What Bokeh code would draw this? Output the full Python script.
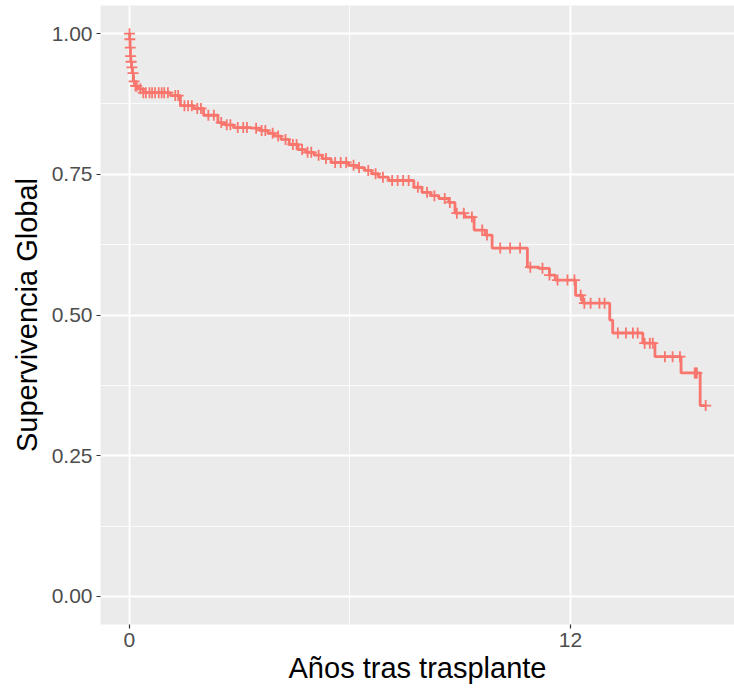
import numpy as np
from bokeh.plotting import figure
from bokeh.models import FixedTicker, Range1d, CustomJSTickFormatter
from bokeh.embed import file_html
from bokeh.resources import INLINE

# Kaplan-Meier steps (years, survival)
event_times = [0, 0.01, 0.02, 0.03, 0.04, 0.06, 0.08, 0.11, 0.15, 0.25, 0.38, 1.12, 1.39,
               1.75, 2.02, 2.41, 2.6, 2.84, 3.31, 3.55, 3.77, 3.95, 4.13, 4.35, 4.59, 4.8,
               5.03, 5.25, 5.49, 5.96, 6.2, 6.40, 6.6, 6.78, 7.05, 7.74, 7.96, 8.2, 8.42,
               8.69, 8.86, 9.13, 9.38, 9.68, 9.87, 10.83, 11.15, 11.43, 11.59, 12.14,
               12.33, 13.07, 13.15, 13.97, 14.30, 15.01, 15.53]
survival = [1.0, 0.99, 0.975, 0.96, 0.95, 0.94, 0.93, 0.915, 0.907, 0.902, 0.895, 0.890,
            0.872, 0.867, 0.855, 0.842, 0.838, 0.833, 0.832, 0.828, 0.823, 0.818, 0.812,
            0.803, 0.794, 0.789, 0.784, 0.778, 0.771, 0.766, 0.762, 0.757, 0.751, 0.745,
            0.739, 0.727, 0.718, 0.712, 0.707, 0.700, 0.681, 0.674, 0.651, 0.642, 0.619,
            0.585, 0.583, 0.571, 0.562, 0.535, 0.521, 0.491, 0.468, 0.450, 0.426, 0.397,
            0.339]
# censoring times (+ marks)
censor_times = [0.005, 0.015, 0.025, 0.035, 0.05, 0.07, 0.1, 0.13, 0.17, 0.2, 0.3, 0.38,
                0.45, 0.55, 0.62, 0.7, 0.8, 0.88, 0.95, 1.05, 1.25, 1.33, 1.5, 1.6, 1.7,
                1.85, 1.95, 2.15, 2.3, 2.5, 2.65, 2.75, 2.95, 3.1, 3.2, 3.45, 3.6, 3.7,
                3.9, 4.05, 4.25, 4.45, 4.55, 4.7, 4.85, 4.95, 5.15, 5.35, 5.6, 5.75, 5.9,
                6.1, 6.25, 6.5, 6.7, 6.9, 7.15, 7.3, 7.45, 7.6, 7.85, 8.1, 8.3, 8.58,
                8.72, 8.91, 9.10, 9.32, 9.60, 9.73, 10.09, 10.36, 10.63, 10.91, 11.24,
                11.43, 11.65, 11.92, 12.11, 12.28, 12.38, 12.55, 12.79, 12.93, 13.29,
                13.51, 13.70, 13.83, 14.02, 14.16, 14.24, 14.57, 14.78, 14.98, 15.38,
                15.41, 15.44, 15.68]
x_ticks = [0, 12]
x_minor = [6, 18]
y_ticks = [0.0, 0.25, 0.5, 0.75, 1.0]
y_minor = [0.125, 0.375, 0.625, 0.875]
x_title = "Años tras trasplante"
y_title = "Supervivencia Global"

COLOR = "#F8766D"

et = np.array(event_times)
sv = np.array(survival)
ct = np.array(censor_times)
cs = sv[np.searchsorted(et, ct, side="right") - 1]
tmax = max(et.max(), ct.max())
line_x = np.append(et, tmax)
line_y = np.append(sv, sv[-1])

p = figure(width=734, height=688, output_backend="svg", toolbar_location=None,
           min_border_left=100, min_border_right=0, min_border_top=5, min_border_bottom=64,
           x_range=Range1d(-0.05 * tmax, 1.05 * tmax), y_range=Range1d(-0.05, 1.05))
p.background_fill_color = "#EBEBEB"
p.border_fill_color = "white"
p.outline_line_color = None

p.step(line_x, line_y, mode="after", line_color=COLOR, line_width=2.8)
p.scatter(ct, cs, marker="cross", size=11, line_color=COLOR, line_width=1.8)

p.xaxis.ticker = FixedTicker(ticks=x_ticks, minor_ticks=x_minor)
p.yaxis.ticker = FixedTicker(ticks=y_ticks, minor_ticks=y_minor)
p.yaxis.formatter = CustomJSTickFormatter(code="return tick.toFixed(2);")

for g in (p.xgrid, p.ygrid):
    g.grid_line_color = "white"
    g.grid_line_width = 1.8
    g.minor_grid_line_color = "white"
    g.minor_grid_line_width = 0.8

for ax in (p.xaxis, p.yaxis):
    ax.axis_line_color = None
    ax.major_tick_line_color = "#333333"
    ax.major_tick_line_width = 1.2
    ax.major_tick_out = 4
    ax.major_tick_in = 0
    ax.minor_tick_line_color = None
    ax.major_label_text_color = "#4D4D4D"
    ax.major_label_text_font = "Liberation Sans"
    ax.major_label_text_font_size = "21px"
    ax.axis_label_text_font = "Liberation Sans"
    ax.axis_label_text_font_size = "29px"
    ax.axis_label_text_font_style = "normal"
    ax.axis_label_text_color = "black"
    ax.major_label_standoff = 4

p.xaxis.axis_label = x_title
p.yaxis.axis_label = y_title
p.xaxis.axis_label_standoff = 2
p.yaxis.axis_label_standoff = 6

open("out.html", "w").write(file_html(p, INLINE))
